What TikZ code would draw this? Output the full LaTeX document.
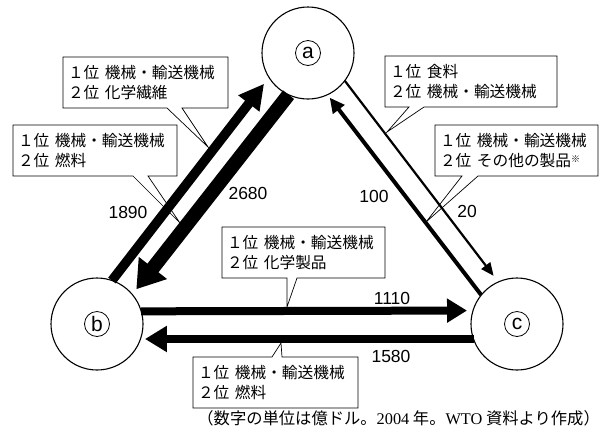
\documentclass[tikz,border=0pt]{standalone}
\usepackage{fontspec}
\setmainfont{Liberation Sans}
\newfontfamily\jp{Noto Sans CJK JP}
\newfontfamily\lserif{Liberation Serif}
\usetikzlibrary{arrows.meta}
\newcommand{\gp}{\hspace{0.35em}}
\newcommand{\kome}{{\fontsize{9}{9}\selectfont\raisebox{4pt}{※}}}
\begin{document}
\begin{tikzpicture}[x=1pt,y=-1pt,
  country/.style={circle,draw,line width=1.1pt,minimum size=92pt,inner sep=0pt,outer sep=0pt},
  letter/.style={circle,draw,line width=0.8pt,minimum size=25pt,inner sep=0pt,font=\fontsize{21}{21}\selectfont},
  lbl/.style={anchor=north west,inner xsep=5pt,inner ysep=0pt,outer sep=0pt,align=left,font=\jp\fontsize{15.7}{20}\selectfont},
  callout/.style={draw,line width=0.7pt,line join=miter},
  num/.style={font=\fontsize{17.5}{17.5}\selectfont,inner sep=0pt},
]
\useasboundingbox (0,0) rectangle (610,432);

% countries
\node[country] (a) at (308,53) {};
\node[country] (b) at (97,324) {};
\node[country] (c) at (517,324) {};
\node[letter] (la) at (a) {a};
\node[letter] (lb) at (b) {b};
\node[letter] (lc) at (c) {c};

% label boxes
\node[lbl,text width=155pt,minimum height=51pt] (b1) at (63,57) {１位\gp 機械・輸送機械\\２位\gp 化学繊維};
\node[lbl,text width=154pt,minimum height=51pt] (b2) at (13,125) {１位\gp 機械・輸送機械\\２位\gp 燃料};
\node[lbl,text width=162pt,minimum height=51pt] (b3) at (385,56) {１位\gp 食料\\２位\gp 機械・輸送機械};
\node[lbl,text width=153pt,minimum height=51pt] (b4) at (435,125) {１位\gp 機械・輸送機械\\２位\gp その他の製品\kome};
\node[lbl,text width=153pt,minimum height=51pt] (b5) at (222,227) {１位\gp 機械・輸送機械\\２位\gp 化学製品};
\node[lbl,text width=155pt,minimum height=51pt] (b6) at (193,357) {１位\gp 機械・輸送機械\\２位\gp 燃料};

% callout pointer points
\coordinate (p1l) at (167,108); \coordinate (p1r) at (182,108); \coordinate (t1) at (208,147);
\coordinate (p2l) at (133,176); \coordinate (p2r) at (148,176); \coordinate (t2) at (180,223);
\coordinate (p3l) at (409,107); \coordinate (p3r) at (424,107); \coordinate (t3) at (387,132);
\coordinate (p4l) at (462,176); \coordinate (p4r) at (478,176); \coordinate (t4) at (426,222);
\coordinate (p5l) at (287,278); \coordinate (p5r) at (297,278); \coordinate (t5) at (287,307);
\coordinate (p6l) at (272,357); \coordinate (p6r) at (282,357); \coordinate (t6) at (281,343);

\foreach \i in {1,...,5}{
  \draw[callout] (b\i.north west) -- (b\i.north east) -- (b\i.south east) -- (p\i r) -- (t\i) -- (p\i l) -- (b\i.south west) -- cycle;
}
\draw[callout] (b6.south west) -- (b6.south east) -- (b6.north east) -- (p6r) -- (t6) -- (p6l) -- (b6.north west) -- cycle;

% flows
\draw[line width=9.5pt,-{Triangle[length=25pt,width=25pt]},shorten >=8pt] (b.71) -- (a.212);
\draw[line width=14pt,-{Triangle[length=27pt,width=34pt]},shorten >=6.6pt] (a.245) -- (b.40);
\draw[line width=4pt,-{Triangle[length=15pt,width=14pt]},shorten >=3.7pt] (c.141.5) -- (a.295);
\draw[line width=2.2pt,-{Triangle[length=13pt,width=11pt]},shorten >=7.7pt] (a.323) -- (c.114);
\draw[line width=8pt,-{Triangle[length=20pt,width=23pt]},shorten >=6pt] (b.16.4) -- (c.163.6);
\draw[line width=8pt,-{Triangle[length=22pt,width=25pt]},shorten >=4.5pt] (c.199) -- (b.341);

% amounts
\node[num] (n1890) at (128,212) {1890};
\node[num] (n2680) at (248,193) {2680};
\node[num] (n100) at (374,196) {100};
\node[num] (n20) at (467,211) {20};
\node[num] (n1110) at (392,298) {1110};
\node[num] (n1580) at (391,356) {1580};

% caption
\node[anchor=east,inner sep=0pt,font=\jp\fontsize{16.3}{17}\selectfont] (cap) at (600,418) {（数字の単位は億ドル。{\lserif 2004} 年。{\lserif WTO} 資料より作成）};
\end{tikzpicture}
\end{document}
